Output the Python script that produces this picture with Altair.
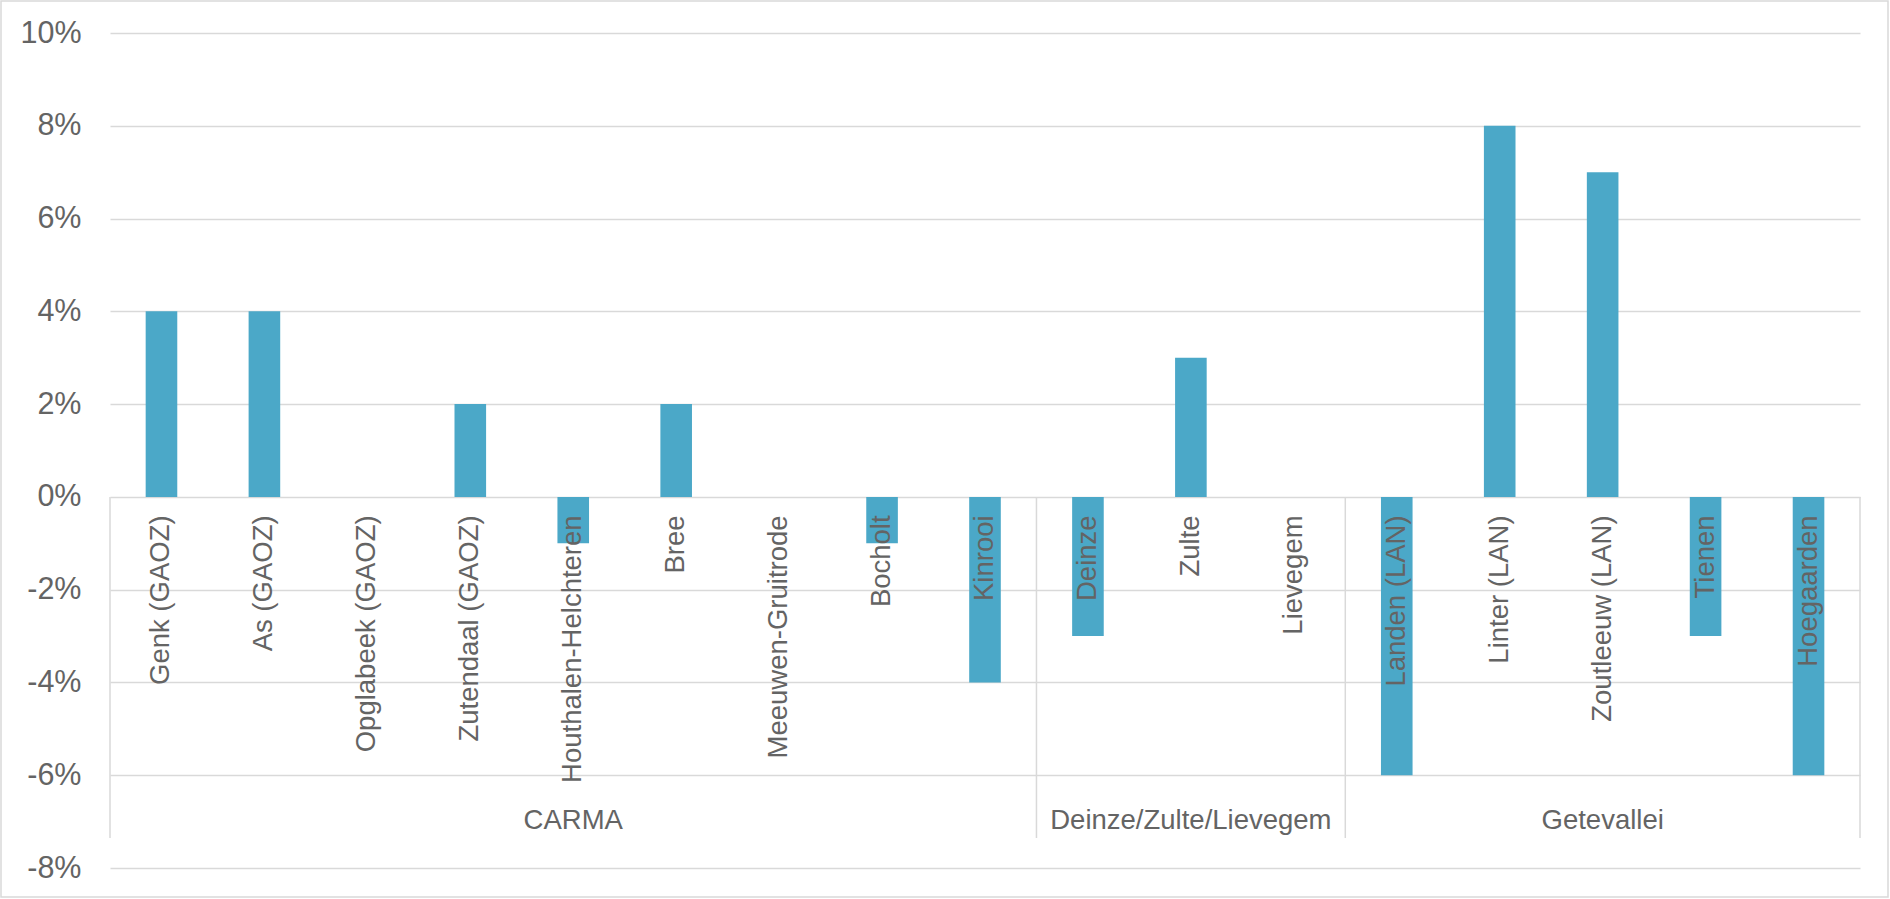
import altair as alt
import pandas as pd

# Municipalities, their region group and the change in percent
municipalities = [
    "Genk (GAOZ)", "As (GAOZ)", "Opglabeek (GAOZ)", "Zutendaal (GAOZ)",
    "Houthalen-Helchteren", "Bree", "Meeuwen-Gruitrode", "Bocholt", "Kinrooi",
    "Deinze", "Zulte", "Lievegem",
    "Landen (LAN)", "Linter (LAN)", "Zoutleeuw (LAN)", "Tienen", "Hoegaarden",
]
groups = (
    ["CARMA"] * 9
    + ["Deinze/Zulte/Lievegem"] * 3
    + ["Getevallei"] * 5
)
change_pct = [4, 4, 0, 2, -1, 2, 0, -1, -4, -3, 3, 0, -6, 8, 7, -3, -6]
y_ticks = [-8, -6, -4, -2, 0, 2, 4, 6, 8, 10]

FONT = "Arial, Liberation Sans, sans-serif"
TEXT = "#646464"
LINE = "#D9D9D9"
BAR = "#4BA8C8"
FS = 27.5       # category and group labels
FS_Y = 30.5     # value axis labels

W, H = 1750, 835
PAD = {"left": 110, "top": 33, "right": 30, "bottom": 31}

df = pd.DataFrame({"municipality": municipalities, "group": groups, "change": change_pct})

# group boundaries and centres, in category-index units
n = len(municipalities)
group_names = []
for g in groups:
    if g not in group_names:
        group_names.append(g)
starts, ends = [], []
for g in group_names:
    idx = [i for i, v in enumerate(groups) if v == g]
    starts.append(idx[0])
    ends.append(idx[-1] + 1)
bounds = sorted(set(starts + ends))
sep_df = pd.DataFrame({"pos": bounds})
lab_df = pd.DataFrame({"group": group_names,
                       "center": [(s + e) / 2 for s, e in zip(starts, ends)]})

y_scale = alt.Scale(domain=[-8, 10], nice=False, zero=False)
idx_scale = alt.Scale(domain=[0, n], nice=False, zero=False)

bars = alt.Chart(df).mark_bar(
    color=BAR, width=alt.RelativeBandSize(0.307)
).encode(
    x=alt.X(
        "municipality:N",
        sort=municipalities,
        scale=alt.Scale(paddingInner=0, paddingOuter=0),
        axis=alt.Axis(
            title=None, grid=False, domain=False, ticks=False,
            labelAngle=270, labelAlign="right", labelBaseline="middle",
            labelPadding=18, labelFont=FONT, labelFontSize=FS,
            labelColor=TEXT, labelLimit=0, labelOverlap=False,
            offset=-(H * 8 / 18), zindex=2,
        ),
    ),
    y=alt.Y(
        "change:Q",
        scale=y_scale,
        axis=alt.Axis(
            title=None, values=y_ticks, labelExpr="datum.value + '%'",
            grid=True, gridColor=LINE, gridWidth=1.5, domain=False,
            ticks=False, labelPadding=29, labelFont=FONT, labelFontSize=FS_Y,
            labelColor=TEXT, zindex=0,
        ),
    ),
)

separators = alt.Chart(sep_df).mark_rule(color=LINE, strokeWidth=1.5).encode(
    x=alt.X("pos:Q", scale=idx_scale, axis=None),
    y=alt.datum(0),
    y2=alt.value(805),
)

group_labels = alt.Chart(lab_df).mark_text(
    font=FONT, fontSize=FS, color=TEXT, baseline="middle", align="center"
).encode(
    x=alt.X("center:Q", scale=idx_scale, axis=None),
    y=alt.value(788),
    text="group:N",
)

frame = alt.Chart(pd.DataFrame({"k": [0]})).mark_rect(
    fillOpacity=0, stroke=LINE, strokeWidth=1.5
).encode(
    x=alt.value(-PAD["left"] + 1),
    x2=alt.value(W + PAD["right"] - 2),
    y=alt.value(-PAD["top"] + 1),
    y2=alt.value(H + PAD["bottom"] - 2),
)

chart = alt.layer(separators, bars, group_labels, frame).resolve_scale(
    x="independent"
).properties(
    width=W, height=H, padding=PAD,
    autosize=alt.AutoSizeParams(type="none"),
    background="white",
).configure_view(stroke=None)

chart.save("out.html", embed_options={"renderer": "svg", "actions": False})
